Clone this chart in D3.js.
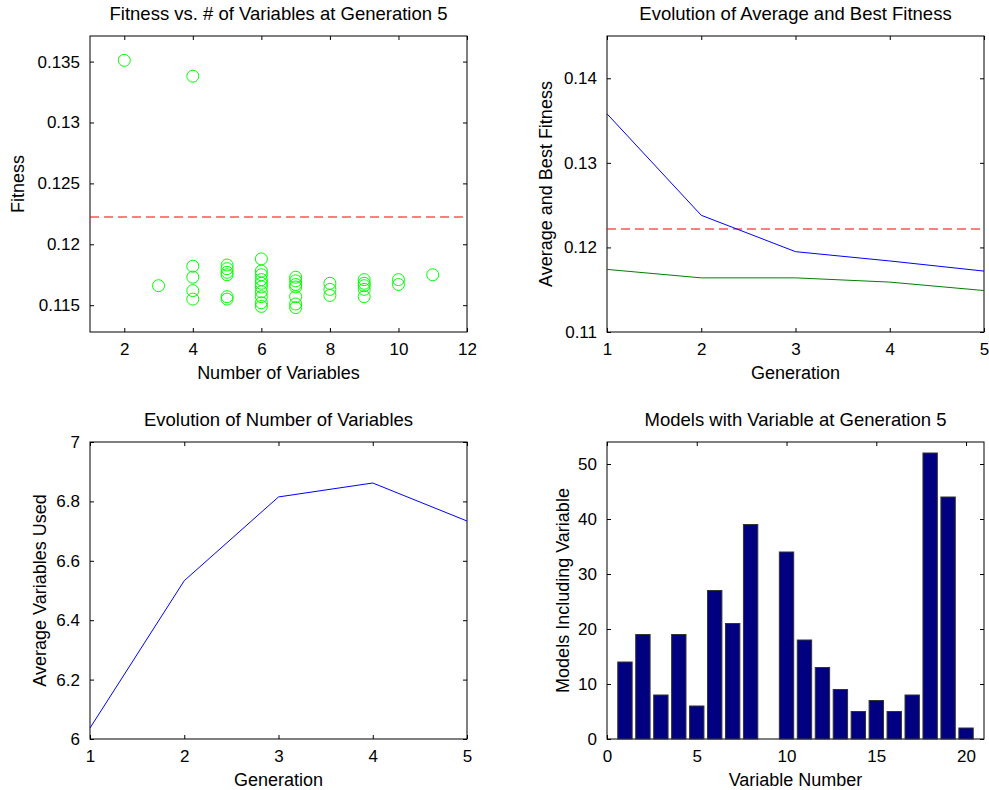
<!DOCTYPE html>
<html>
<head>
<meta charset="utf-8">
<script src="https://cdn.jsdelivr.net/npm/d3@7"></script>
<style>
  body { margin: 0; background: #fff; }
  svg { display: block; font-family: "Liberation Sans", Arial, sans-serif; }
  .tick text { font-size: 17px; fill: #000; }
  .tick line, .domain { stroke: #000; }
  .title { font-size: 18.5px; fill: #000; }
  .label { font-size: 18px; fill: #000; }
</style>
</head>
<body>
<div id="chart"></div>
<script>

// scatter at generation 5
var numVars = [2, 3,
  4, 4, 4, 4, 4,
  5, 5, 5, 5, 5, 5,
  6, 6, 6, 6, 6, 6, 6, 6, 6, 6,
  7, 7, 7, 7, 7, 7, 7,
  8, 8, 8,
  9, 9, 9, 9, 9,
  10, 10,
  11];
var fitness = [0.1351, 0.1166,
  0.1338, 0.1182, 0.1173, 0.1162, 0.1155,
  0.1183, 0.1180, 0.1177, 0.1175, 0.1157, 0.1155,
  0.1188, 0.1178, 0.1175, 0.1171, 0.1168, 0.1165, 0.1161, 0.1157, 0.1152, 0.1149,
  0.1173, 0.1170, 0.1167, 0.1165, 0.1157, 0.1151, 0.1148,
  0.1168, 0.1163, 0.1158,
  0.1171, 0.1168, 0.1166, 0.1163, 0.1157,
  0.1171, 0.1167,
  0.1175];
var threshold = 0.1222;

// evolution per generation
var generations = [1, 2, 3, 4, 5];
var avgFitness = [0.1358, 0.1238, 0.1195, 0.1184, 0.1172];
var bestFitness = [0.1174, 0.1164, 0.1164, 0.1159, 0.1149];
var avgVarsUsed = [6.037, 6.533, 6.815, 6.862, 6.734];

// variable counts
var varNumbers = d3.range(1, 21);
var modelCounts = [14, 19, 8, 19, 6, 27, 21, 39, 0, 34, 18, 13, 9, 5, 7, 5, 8, 52, 44, 2];

// ticks
var fitTicks = [0.115, 0.12, 0.125, 0.13, 0.135];
var nvTicks = [2, 4, 6, 8, 10, 12];
var evoFitTicks = [0.11, 0.12, 0.13, 0.14];
var genTicks = [1, 2, 3, 4, 5];
var avTicks = [6, 6.2, 6.4, 6.6, 6.8, 7];
var barXTicks = [0, 5, 10, 15, 20];
var barYTicks = [0, 10, 20, 30, 40, 50];

var svg = d3.select("#chart").append("svg")
    .attr("width", 989)
    .attr("height", 790);

svg.append("rect").attr("width", 989).attr("height", 790).attr("fill", "#fff");

var fmt = d3.format("~g");

function makePanel(box, xDom, yDom, xt, yt, title, xlab, ylab, ylabX){
  var x = d3.scaleLinear().domain(xDom).range([box.l, box.r]);
  var y = d3.scaleLinear().domain(yDom).range([box.b, box.t]);
  var w = box.r - box.l, h = box.b - box.t;
  var g = svg.append("g");

  // mirror ticks on top & right (no labels)
  g.append("g").attr("transform", "translate(0," + box.t + ")")
    .call(d3.axisTop(x).tickValues(xt).tickSizeInner(-4).tickSizeOuter(0).tickFormat(""));
  g.append("g").attr("transform", "translate(" + box.r + ",0)")
    .call(d3.axisRight(y).tickValues(yt).tickSizeInner(-4).tickSizeOuter(0).tickFormat(""));

  g.append("g").attr("transform", "translate(0," + box.b + ")")
    .call(d3.axisBottom(x).tickValues(xt).tickSizeInner(-4).tickSizeOuter(0).tickPadding(11).tickFormat(fmt));
  g.append("g").attr("transform", "translate(" + box.l + ",0)")
    .call(d3.axisLeft(y).tickValues(yt).tickSizeInner(-4).tickSizeOuter(0).tickPadding(10).tickFormat(fmt));
  g.selectAll(".domain").remove();

  g.append("rect")
    .attr("x", box.l).attr("y", box.t)
    .attr("width", w).attr("height", h)
    .attr("fill", "none").attr("stroke", "#000").attr("stroke-width", 1);

  g.append("text").attr("class", "title")
    .attr("x", (box.l + box.r) / 2).attr("y", box.t - 16)
    .attr("text-anchor", "middle").text(title);
  g.append("text").attr("class", "label")
    .attr("x", (box.l + box.r) / 2).attr("y", box.b + 47)
    .attr("text-anchor", "middle").text(xlab);
  g.append("text").attr("class", "label")
    .attr("transform", "translate(" + ylabX + "," + (box.t + box.b) / 2 + ") rotate(-90)")
    .attr("text-anchor", "middle").text(ylab);

  var plot = g.append("g");
  return {x: x, y: y, g: plot};
}

// red dashed reference level (sits on a whole pixel so it spreads over 2 rows like the original)
function refLine(p, x0, x1){
  var yy = Math.round(p.y(threshold));
  p.g.append("line")
    .attr("x1", p.x(x0)).attr("x2", p.x(x1))
    .attr("y1", yy).attr("y2", yy)
    .attr("stroke", "#ff0000")
    .attr("stroke-width", 1.2)
    .attr("stroke-dasharray", "9,5");
}

// panel 1: scatter
var p1 = makePanel({l: 90, r: 467, t: 36, b: 332}, [1, 12], [0.1128, 0.1371],
  nvTicks, fitTicks,
  "Fitness vs. # of Variables at Generation 5", "Number of Variables", "Fitness", 24);

refLine(p1, 1, 12);

p1.g.selectAll("circle")
  .data(numVars)
  .enter()
  .append("circle")
  .attr("cx", function(d) { return p1.x(d); })
  .attr("cy", function(d, i) { return p1.y(fitness[i]); })
  .attr("r", 6)
  .attr("fill", "none")
  .attr("stroke", "#00ff00");

// panel 2: fitness evolution
var p2 = makePanel({l: 607, r: 984, t: 36, b: 332}, [1, 5], [0.11, 0.145],
  genTicks, evoFitTicks,
  "Evolution of Average and Best Fitness", "Generation", "Average and Best Fitness", 552);

refLine(p2, 1, 5);

var line2 = function(vals){
  return d3.line()
    .x(function(d) { return p2.x(d); })
    .y(function(d, i) { return p2.y(vals[i]); })(generations);
};
p2.g.append("path").attr("d", line2(avgFitness))
  .attr("fill", "none").attr("stroke", "#0000ff");
p2.g.append("path").attr("d", line2(bestFitness))
  .attr("fill", "none").attr("stroke", "#008000");

// panel 3: number of variables
var p3 = makePanel({l: 90, r: 467, t: 442, b: 739}, [1, 5], [6, 7],
  genTicks, avTicks,
  "Evolution of Number of Variables", "Generation", "Average Variables Used", 46);

p3.g.append("path")
  .attr("d", d3.line()
    .x(function(d) { return p3.x(d); })
    .y(function(d, i) { return p3.y(avgVarsUsed[i]); })(generations))
  .attr("fill", "none").attr("stroke", "#0000ff");

// panel 4: bars
var p4 = makePanel({l: 607, r: 984, t: 442, b: 739}, [0, 21], [0, 54],
  barXTicks, barYTicks,
  "Models with Variable at Generation 5", "Variable Number", "Models Including Variable", 569);

p4.g.selectAll("rect")
  .data(modelCounts)
  .enter()
  .append("rect")
  .attr("x", function(d, i) { return p4.x(varNumbers[i] - 0.4); })
  .attr("width", function(d, i) { return p4.x(0.8) - p4.x(0); })
  .attr("y", function(d) { return p4.y(d); })
  .attr("height", function(d) { return p4.y(0) - p4.y(d); })
  .attr("fill", "#000080")
  .attr("stroke", "#333")
  .attr("stroke-width", 1);

</script>
</body>
</html>
